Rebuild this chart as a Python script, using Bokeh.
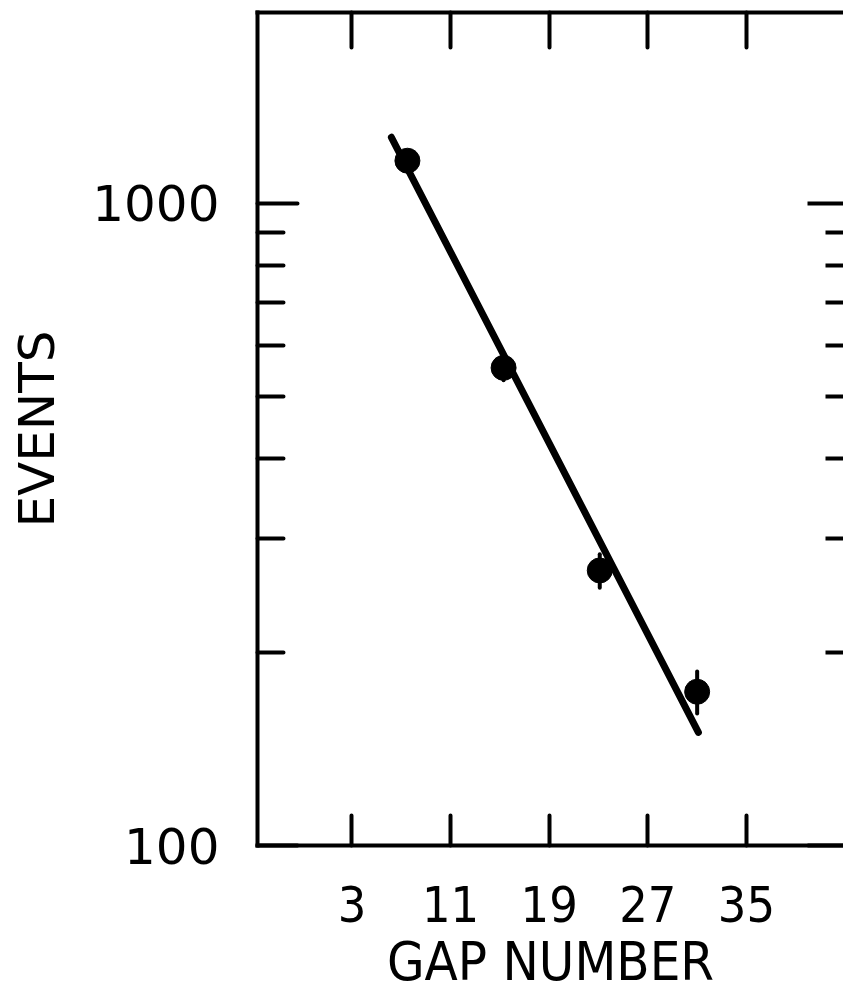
from bokeh.plotting import figure
from bokeh.models import LinearAxis, LogAxis, FixedTicker, Range1d, CustomLabelingPolicy
from bokeh.embed import file_html
from bokeh.resources import INLINE

# ---- data ----
gap = [7.5, 15.3, 23.1, 31.0]
events = [1164, 554, 268, 173.5]
err = [34, 24, 16, 13]

fit_gap = [6.2, 31.1]
fit_events = [1266, 150]

x_ticks = [3, 11, 19, 27, 35]
x_tick_labels = ["3", "11", "19", "27", "35"]
y_major = [100, 1000]
y_major_labels = ["100", "1000"]
y_minor = [200, 300, 400, 500, 600, 700, 800, 900]

FONT = "DejaVu Sans"
FONT_NARROW = "'DejaVu Sans Condensed', 'DejaVu Sans'"

hide_labels = CustomLabelingPolicy(code="""
    const n = indices.size
    for (let i = 0; i < n; i++) { indices.unset(i) }
    return indices
""")

p = figure(width=843, height=998, y_axis_type="log",
           x_range=Range1d(-4.66, 42.87), y_range=Range1d(100, 1980),
           output_backend="svg", toolbar_location=None,
           min_border_left=257, min_border_top=12, min_border_bottom=153,
           min_border_right=0)
p.outline_line_color = None
p.grid.visible = False
p.background_fill_color = "white"
p.border_fill_color = "white"

# bottom axis
xa = p.xaxis[0]
xa.ticker = FixedTicker(ticks=x_ticks, minor_ticks=[])
xa.major_label_overrides = {t: s for t, s in zip(x_ticks, x_tick_labels)}
xa.major_tick_in = 30
xa.major_tick_out = 0
xa.major_tick_line_width = 4
xa.major_tick_line_cap = "round"
xa.axis_line_width = 4
xa.axis_line_cap = "square"
xa.major_label_text_font = FONT_NARROW
xa.major_label_text_font_size = "50px"
xa.major_label_text_color = "black"
xa.major_label_standoff = 40
xa.axis_label = "GAP NUMBER"
xa.axis_label_text_font = FONT_NARROW
xa.axis_label_text_font_size = "54px"
xa.axis_label_text_font_style = "normal"
xa.axis_label_text_color = "black"
xa.axis_label_standoff = 5

# left axis
ya = p.yaxis[0]
ya.ticker = FixedTicker(ticks=y_major, minor_ticks=y_minor)
ya.major_label_overrides = {t: s for t, s in zip(y_major, y_major_labels)}
ya.major_tick_in = 40
ya.major_tick_out = 0
ya.minor_tick_in = 26
ya.minor_tick_out = 0
ya.major_tick_line_width = 4
ya.minor_tick_line_width = 4
ya.major_tick_line_cap = "round"
ya.minor_tick_line_cap = "round"
ya.axis_line_width = 4
ya.axis_line_cap = "square"
ya.major_label_text_font = FONT
ya.major_label_text_font_size = "50px"
ya.major_label_text_color = "black"
ya.major_label_standoff = 38
ya.axis_label = "EVENTS"
ya.axis_label_text_font = FONT
ya.axis_label_text_font_size = "50px"
ya.axis_label_text_font_style = "normal"
ya.axis_label_text_color = "black"
ya.axis_label_standoff = 23

# top axis (ticks only)
top = LinearAxis(ticker=FixedTicker(ticks=x_ticks, minor_ticks=[]))
top.major_tick_in = 35
top.major_tick_out = 0
top.major_tick_line_width = 4
top.major_tick_line_cap = "round"
top.axis_line_width = 4
top.axis_line_cap = "square"
top.major_label_text_font_size = "2px"
top.major_label_standoff = 0
top.major_label_overrides = {t: "" for t in x_ticks}
top.major_label_policy = hide_labels
p.add_layout(top, "above")

# right axis (ticks only)
right = LogAxis(ticker=FixedTicker(ticks=y_major, minor_ticks=y_minor))
right.major_tick_in = 36
right.major_tick_out = 0
right.minor_tick_in = 18
right.minor_tick_out = 0
right.major_tick_line_width = 4
right.minor_tick_line_width = 4
right.axis_line_color = None
right.major_label_text_font_size = "2px"
right.major_label_standoff = 0
right.major_label_overrides = {t: "" for t in y_major}
right.major_label_policy = hide_labels
p.add_layout(right, "right")

# fit line
p.line(fit_gap, fit_events, line_width=7, line_color="black", line_cap="round")

# error bars
lo = [e - d for e, d in zip(events, err)]
hi = [e + d for e, d in zip(events, err)]
p.segment(x0=gap, y0=lo, x1=gap, y1=hi, line_width=4, line_color="black",
          line_cap="round")

# points
p.scatter(gap, events, size=25, fill_color="black", line_color="black")

open("out.html", "w").write(file_html(p, INLINE))
